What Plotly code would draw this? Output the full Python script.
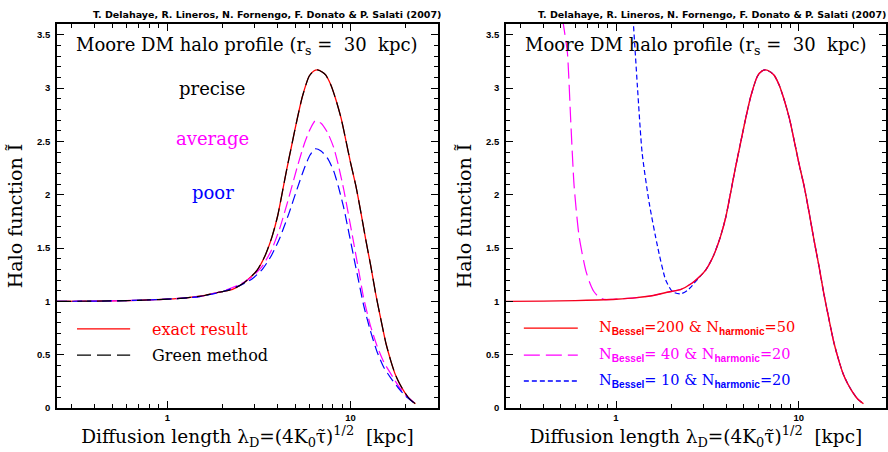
import plotly.graph_objects as go

# ---------------- data ----------------
# precise / exact result (also N_Bessel=200 & N_harmonic=50)
x_precise = [0.25, 0.4, 0.6, 0.8, 1.0, 1.3, 1.6, 1.9, 2.25, 2.6, 2.9, 3.1, 3.4, 3.73, 4.0, 4.24,
             4.5, 4.81, 5.1, 5.46, 5.94, 6.3, 6.6, 7.0, 7.33, 7.8, 8.32, 8.9, 9.43, 10.0, 10.7,
             11.4, 12.1, 12.9, 13.7, 14.6, 15.6, 16.6, 17.5, 18.5, 19.7, 21.0, 22.6]
y_precise = [1.0, 1.002, 1.007, 1.013, 1.02, 1.035, 1.055, 1.085, 1.11, 1.17, 1.24, 1.295, 1.42,
             1.607, 1.80, 2.02, 2.25, 2.49, 2.70, 2.92, 3.11, 3.16, 3.17, 3.15, 3.12, 3.03, 2.89,
             2.71, 2.51, 2.30, 2.08, 1.83, 1.58, 1.33, 1.076, 0.84, 0.607, 0.44, 0.32, 0.23,
             0.15, 0.085, 0.04]

# average (left panel)
x_average = [0.25, 0.5, 1.0, 1.5, 2.0, 2.5, 2.9, 3.3, 3.7, 4.1, 4.6, 5.1, 5.6, 6.0, 6.4, 6.9,
             7.5, 8.1, 8.6, 9.2, 9.8, 10.4, 11.1, 11.8, 12.8, 14.0, 15.2, 16.6, 18.2, 20.0, 22.5]
y_average = [1.0, 1.004, 1.02, 1.045, 1.095, 1.16, 1.23, 1.33, 1.48, 1.68, 1.97, 2.25, 2.48,
             2.61, 2.69, 2.67, 2.58, 2.44, 2.27, 2.04, 1.79, 1.55, 1.28, 1.03, 0.78, 0.575,
             0.43, 0.32, 0.21, 0.12, 0.045]

# poor (left panel)
x_poor = [0.25, 0.5, 1.0, 1.5, 2.0, 2.5, 2.9, 3.3, 3.7, 4.1, 4.6, 5.1, 5.6, 6.0, 6.4, 6.9,
          7.5, 8.1, 8.6, 9.2, 9.8, 10.4, 11.1, 11.8, 12.8, 14.0, 15.2, 16.6, 18.2, 20.0, 22.5]
y_poor = [1.0, 1.004, 1.02, 1.045, 1.09, 1.15, 1.21, 1.30, 1.43, 1.59, 1.82, 2.05, 2.25, 2.37,
          2.43, 2.41, 2.34, 2.22, 2.07, 1.87, 1.64, 1.42, 1.18, 0.96, 0.73, 0.52, 0.38, 0.28,
          0.19, 0.11, 0.04]

# N_Bessel=40 & N_harmonic=20 (right panel)
x_n40 = [0.49, 0.515, 0.542, 0.565, 0.59, 0.628, 0.683, 0.72, 0.758, 0.8, 0.86, 0.95, 1.0, 1.3,
         1.6, 1.9, 2.25, 2.6, 2.9, 3.1, 3.4, 3.73, 4.0, 4.24, 4.5, 4.81, 5.1, 5.46, 5.94, 6.3,
         6.6, 7.0, 7.33, 7.8, 8.32, 8.9, 9.43, 10.0, 10.7, 11.4, 12.1, 12.9, 13.7, 14.6, 15.6,
         16.6, 17.5, 18.5, 19.7, 21.0, 22.6]
y_n40 = [3.85, 3.6, 3.33, 2.70, 2.08, 1.61, 1.29, 1.17, 1.09, 1.045, 1.018, 1.018, 1.02, 1.035,
         1.055, 1.085, 1.11, 1.17, 1.24, 1.295, 1.42, 1.607, 1.80, 2.02, 2.25, 2.49, 2.70, 2.92,
         3.11, 3.16, 3.17, 3.15, 3.12, 3.03, 2.89, 2.71, 2.51, 2.30, 2.08, 1.83, 1.58, 1.33,
         1.076, 0.84, 0.607, 0.44, 0.32, 0.23, 0.15, 0.085, 0.04]

# N_Bessel=10 & N_harmonic=20 (right panel)
x_n10 = [1.22, 1.245, 1.31, 1.39, 1.52, 1.69, 1.87, 2.04, 2.26, 2.45, 2.62, 2.8, 3.0, 3.1, 3.4,
         3.73, 4.0, 4.24, 4.5, 4.81, 5.1, 5.46, 5.94, 6.3, 6.6, 7.0, 7.33, 7.8, 8.32, 8.9, 9.43,
         10.0, 10.7, 11.4, 12.1, 12.9, 13.7, 14.6, 15.6, 16.6, 17.5, 18.5, 19.7, 21.0, 22.6]
y_n10 = [3.8, 3.6, 3.01, 2.39, 1.92, 1.51, 1.20, 1.09, 1.07, 1.10, 1.15, 1.21, 1.265, 1.295,
         1.42, 1.607, 1.80, 2.02, 2.25, 2.49, 2.70, 2.92, 3.11, 3.16, 3.17, 3.15, 3.12, 3.03,
         2.89, 2.71, 2.51, 2.30, 2.08, 1.83, 1.58, 1.33, 1.076, 0.84, 0.607, 0.44, 0.32, 0.23,
         0.15, 0.085, 0.04]

y_tickvals = [0, 0.5, 1, 1.5, 2, 2.5, 3, 3.5]
y_ticktext = ["0", "0.5", "1", "1.5", "2", "2.5", "3", "3.5"]
x_tickvals = [1, 10]
x_ticktext = ["1", "10"]
x_minor = [0.3, 0.4, 0.5, 0.6, 0.7, 0.8, 0.9, 2, 3, 4, 5, 6, 7, 8, 9, 20, 30]
y_minor = [round(i * 0.1, 1) for i in range(0, 37)]

credit = "T. Delahaye, R. Lineros, N. Fornengo, F. Donato &amp; P. Salati (2007)"
panel_title = "Moore DM halo profile (r<sub>s</sub> =  30  kpc)"
x_title = "Diffusion length λ<sub>D</sub>=(4K<sub>0</sub>τ̃)<sup>1/2</sup>  [kpc]"
y_title = "Halo function Ĩ"

SERIF = "DejaVu Serif"
SANS = "Liberation Sans"

fig = go.Figure()

spline = dict(shape="spline", smoothing=0.6)

# left panel
fig.add_trace(go.Scatter(x=x_precise, y=y_precise, mode="lines", xaxis="x", yaxis="y",
                         line=dict(color="#ff0000", width=1.3, **spline), showlegend=False))
fig.add_trace(go.Scatter(x=x_average, y=y_average, mode="lines", xaxis="x", yaxis="y",
                         line=dict(color="#ff00ff", width=1.2, dash="12px,5px", **spline), showlegend=False))
fig.add_trace(go.Scatter(x=x_poor, y=y_poor, mode="lines", xaxis="x", yaxis="y",
                         line=dict(color="#0000ff", width=1.2, dash="10px,5px", **spline), showlegend=False))
fig.add_trace(go.Scatter(x=x_precise, y=y_precise, mode="lines", xaxis="x", yaxis="y",
                         line=dict(color="#000000", width=1.2, dash="14px,6px", **spline), showlegend=False))

# right panel
fig.add_trace(go.Scatter(x=x_n40, y=y_n40, mode="lines", xaxis="x2", yaxis="y2",
                         line=dict(color="#ff00ff", width=1.2, dash="16px,6px", **spline), showlegend=False))
fig.add_trace(go.Scatter(x=x_n10, y=y_n10, mode="lines", xaxis="x2", yaxis="y2",
                         line=dict(color="#0000ff", width=1.2, dash="5px,3px", **spline), showlegend=False))
fig.add_trace(go.Scatter(x=x_precise, y=y_precise, mode="lines", xaxis="x2", yaxis="y2",
                         line=dict(color="#f5001e", width=1.4, **spline), showlegend=False))

def xaxis_cfg(domain, anchor):
    return dict(type="log", range=[-0.60206, 1.47712], domain=domain, anchor=anchor,
                automargin=False,
                tickmode="array", tickvals=x_tickvals, ticktext=x_ticktext,
                ticks="inside", ticklen=7, tickwidth=1.2, tickcolor="black",
                minor=dict(tickmode="array", tickvals=x_minor, ticks="inside", ticklen=4,
                           tickwidth=1, tickcolor="black", showgrid=False),
                showline=True, linecolor="black", linewidth=1.6, mirror="ticks",
                showgrid=False, zeroline=False,
                tickfont=dict(family=SANS, size=9.5, color="black", weight="bold"),
                title=dict(text=x_title, font=dict(family=SERIF, size=18.5, color="black"), standoff=7))

def yaxis_cfg(anchor):
    return dict(range=[0, 3.6], domain=[0.0973, 0.9469], anchor=anchor,
                automargin=False,
                tickmode="array", tickvals=y_tickvals, ticktext=y_ticktext,
                ticks="inside", ticklen=7, tickwidth=1.2, tickcolor="black",
                minor=dict(tickmode="array", tickvals=y_minor, ticks="inside", ticklen=4,
                           tickwidth=1, tickcolor="black", showgrid=False),
                showline=True, linecolor="black", linewidth=1.6, mirror="ticks",
                showgrid=False, zeroline=False, ticklabelstandoff=3,
                tickfont=dict(family=SANS, size=9.5, color="black", weight="bold"),
                title=dict(text=y_title, font=dict(family=SERIF, size=19, color="black"), standoff=9))

annotations = []
for xr, yr, xc in [("x domain", "y domain", 1.013), ("x2 domain", "y2 domain", 1.005)]:
    annotations.append(dict(text=credit, xref=xr, yref="paper", x=xc, y=0.969, xanchor="right",
                            yanchor="middle", showarrow=False,
                            font=dict(family="DejaVu Sans", size=9.5, color="black", weight="bold")))
    annotations.append(dict(text=panel_title, xref=xr, yref=yr, x=0.5, y=0.943, xanchor="center",
                            yanchor="middle", showarrow=False,
                            font=dict(family=SERIF, size=18, color="black")))

for txt, col, xx, yy in [("precise", "black", 0.409, 0.833), ("average", "#ff00ff", 0.409, 0.703),
                         ("poor", "#0000ff", 0.409, 0.5625)]:
    annotations.append(dict(text=txt, xref="x domain", yref="y domain", x=xx, y=yy,
                            xanchor="center", yanchor="middle", showarrow=False,
                            font=dict(family=SERIF, size=18, color=col)))

# left legend
for txt, col, yy in [("exact result", "#ff0000", 0.204), ("Green method", "black", 0.136)]:
    annotations.append(dict(text=txt, xref="x domain", yref="y domain", x=0.244, y=yy,
                            xanchor="left", yanchor="middle", showarrow=False,
                            font=dict(family=SERIF, size=16, color=col)))

sub = '<sub><span style="font-family:Liberation Sans;font-weight:bold">%s</span></sub>'
right_leg = [("N" + sub % "Bessel" + "=200 &amp; N" + sub % "harmonic" + "=50", "#ff0000", 0.208),
             ("N" + sub % "Bessel" + "= 40 &amp; N" + sub % "harmonic" + "=20", "#ff00ff", 0.138),
             ("N" + sub % "Bessel" + "= 10 &amp; N" + sub % "harmonic" + "=20", "#0000ff", 0.0703)]
for txt, col, yy in right_leg:
    annotations.append(dict(text=txt, xref="x2 domain", yref="y2 domain", x=0.2395, y=yy,
                            xanchor="left", yanchor="middle", showarrow=False,
                            font=dict(family=SERIF, size=14.5, color=col)))

shapes = [
    dict(type="line", xref="x domain", yref="y domain", x0=0.0525, x1=0.192, y0=0.206, y1=0.206,
         line=dict(color="#ff0000", width=1.3)),
    dict(type="line", xref="x domain", yref="y domain", x0=0.0525, x1=0.192, y0=0.138, y1=0.138,
         line=dict(color="black", width=1.3, dash="14px,6px")),
    dict(type="line", xref="x2 domain", yref="y2 domain", x0=0.047, x1=0.189, y0=0.208, y1=0.208,
         line=dict(color="#ff0000", width=1.3)),
    dict(type="line", xref="x2 domain", yref="y2 domain", x0=0.047, x1=0.189, y0=0.138, y1=0.138,
         line=dict(color="#ff00ff", width=1.3, dash="16px,6px")),
    dict(type="line", xref="x2 domain", yref="y2 domain", x0=0.047, x1=0.189, y0=0.0703, y1=0.0703,
         line=dict(color="#0000ff", width=1.3, dash="5px,3px")),
]

fig.update_layout(
    width=888, height=452,
    margin=dict(l=0, r=0, t=0, b=0),
    paper_bgcolor="white", plot_bgcolor="white",
    showlegend=False,
    xaxis=xaxis_cfg([0.0642, 0.4932], "y"),
    yaxis=yaxis_cfg("x"),
    xaxis2=xaxis_cfg([0.5698, 0.9977], "y2"),
    yaxis2=yaxis_cfg("x2"),
    annotations=annotations,
    shapes=shapes,
)

fig.write_html("out.html")
